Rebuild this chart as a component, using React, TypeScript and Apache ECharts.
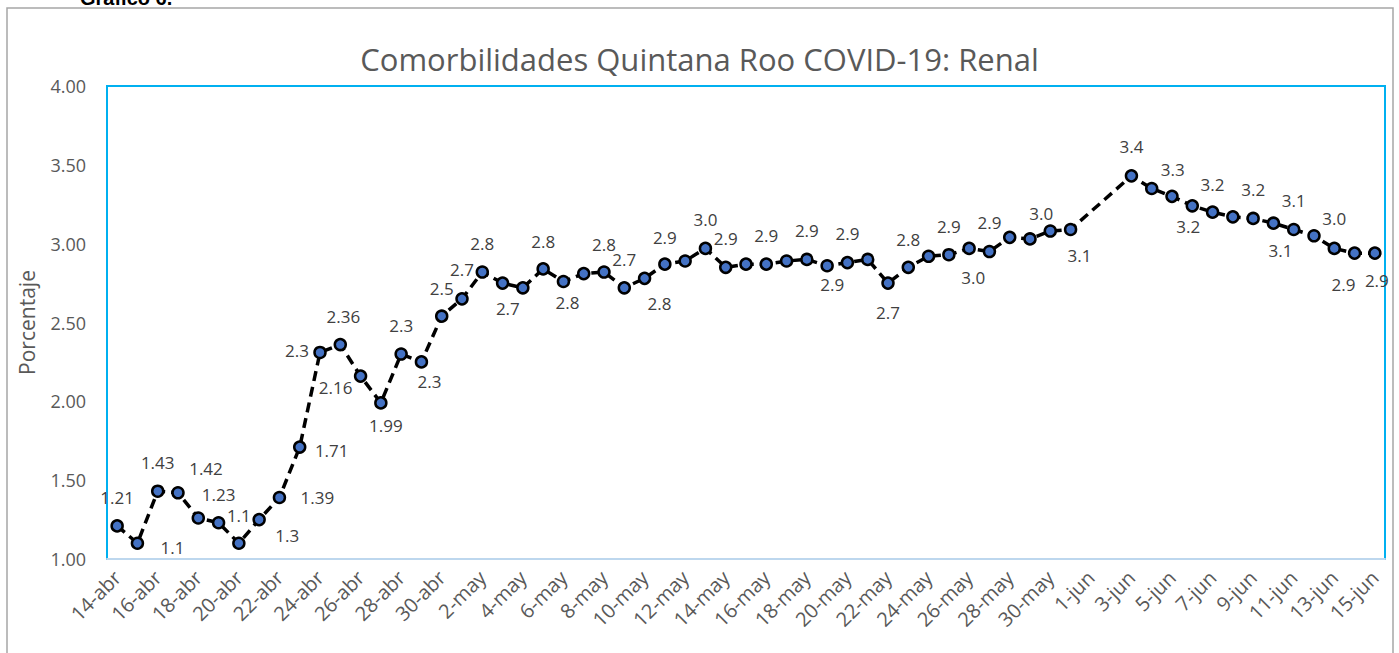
import React, { useEffect, useRef } from "react";
import * as echarts from "echarts";

const categories: string[] = [
  "14-abr", "15-abr", "16-abr", "17-abr", "18-abr", "19-abr", "20-abr", "21-abr", "22-abr", "23-abr",
  "24-abr", "25-abr", "26-abr", "27-abr", "28-abr", "29-abr", "30-abr",
  "1-may", "2-may", "3-may", "4-may", "5-may", "6-may", "7-may", "8-may", "9-may", "10-may",
  "11-may", "12-may", "13-may", "14-may", "15-may", "16-may", "17-may", "18-may", "19-may", "20-may",
  "21-may", "22-may", "23-may", "24-may", "25-may", "26-may", "27-may", "28-may", "29-may", "30-may", "31-may",
  "1-jun", "2-jun", "3-jun", "4-jun", "5-jun", "6-jun", "7-jun", "8-jun", "9-jun", "10-jun",
  "11-jun", "12-jun", "13-jun", "14-jun", "15-jun",
];

const renalValues: (number | null)[] = [
  1.21, 1.1, 1.43, 1.42, 1.26, 1.23, 1.1, 1.25, 1.39, 1.71,
  2.31, 2.36, 2.16, 1.99, 2.3, 2.25, 2.54, 2.65, 2.82, 2.75,
  2.72, 2.84, 2.76, 2.81, 2.82, 2.72, 2.78, 2.87, 2.89, 2.97,
  2.85, 2.87, 2.87, 2.89, 2.9, 2.86, 2.88, 2.9, 2.75, 2.85,
  2.92, 2.93, 2.97, 2.95, 3.04, 3.03, 3.08, 3.09, null, null,
  3.43, 3.35, 3.3, 3.24, 3.2, 3.17, 3.16, 3.13, 3.09, 3.05,
  2.97, 2.94, 2.94,
];

// Text of the data labels shown in the reference ("" = no label)
const labelTexts: string[] = [
  "1.21", "1.1", "1.43", "1.42", "", "1.23", "1.1", "1.3", "1.39", "1.71",
  "2.3", "2.36", "2.16", "1.99", "2.3", "2.3", "2.5", "2.7", "2.8", "",
  "2.7", "2.8", "2.8", "", "2.8", "2.7", "2.8", "2.9", "", "3.0",
  "2.9", "", "2.9", "", "2.9", "2.9", "2.9", "", "2.7", "2.8",
  "", "2.9", "3.0", "2.9", "", "", "3.0", "3.1", "", "",
  "3.4", "3.3", "", "3.2", "3.2", "", "3.2", "3.1", "3.1", "",
  "3.0", "2.9", "2.9",
];

// Label placement (styling): offset of each label from its point
const labelOffsets: [number, number][] = [
  [0, -28], [35, 4], [0, -29], [28, -24], [0, 0], [0, -28], [0, -28], [28, 16], [38, 0], [32, 3],
  [-23, -2], [3, -28], [-25, 11], [5, 23], [0, -29], [8, 20], [0, -28], [0, -29], [0, -29], [0, 0],
  [-15, 21], [0, -27], [4, 21], [0, 0], [0, -28], [0, -28], [15, 25], [0, -27], [0, 0], [0, -29],
  [0, -29], [0, 0], [0, -29], [0, 0], [0, -29], [5, 19], [0, -29], [0, 0], [0, 29], [0, -28],
  [0, 0], [0, -28], [4, 29], [0, -29], [0, 0], [0, 0], [-9, -18], [9, 26], [0, 0], [0, 0],
  [0, -29], [21, -19], [0, 0], [-4, 21], [0, -28], [0, 0], [0, -29], [7, 27], [0, -29], [0, 0],
  [0, -30], [-11, 31], [2, 27],
];

const FONT = "'Open Sans', 'Noto Sans', sans-serif";

export default function App() {
  const ref = useRef<HTMLDivElement>(null);

  useEffect(() => {
    if (!ref.current) return;
    const chart = echarts.init(ref.current, undefined, { renderer: "svg" });

    const data = renalValues.map((v, i) => ({
      value: v,
      label: {
        show: labelTexts[i] !== "" && v !== null,
        formatter: labelTexts[i],
        offset: labelOffsets[i],
      },
    }));

    chart.setOption({
      animation: false,
      backgroundColor: "#ffffff",
      graphic: [
        {
          type: "rect",
          shape: { x: 7, y: 8, width: 1386, height: 700 },
          style: { fill: "transparent", stroke: "#A6A6A6", lineWidth: 1.5 },
          silent: true,
        },
        {
          type: "text",
          x: 80,
          y: 8,
          style: {
            text: "Gráfico 6.",
            font: "bold 20px 'Liberation Sans', Arial, sans-serif",
            fill: "#000000",
            textVerticalAlign: "bottom",
          },
        },
      ],
      title: {
        text: "Comorbilidades Quintana Roo COVID-19: Renal",
        left: "center",
        top: 38,
        textStyle: {
          fontFamily: FONT,
          fontSize: 31,
          fontWeight: "normal",
          color: "#595959",
        },
      },
      grid: {
        left: 107,
        right: 14,
        top: 86,
        bottom: 94,
        show: true,
        borderColor: "#00B0F0",
        borderWidth: 2,
        backgroundColor: "transparent",
      },
      xAxis: {
        type: "category",
        data: categories,
        boundaryGap: true,
        axisLine: { show: true, lineStyle: { color: "#BDD7EE", width: 2 } },
        axisTick: { show: false },
        axisLabel: {
          interval: 1,
          rotate: 45,
          fontSize: 20,
          color: "#595959",
          fontFamily: FONT,
          margin: 15,
        },
        splitLine: { show: false },
      },
      yAxis: {
        type: "value",
        min: 1,
        max: 4,
        interval: 0.5,
        name: "Porcentaje",
        nameLocation: "middle",
        nameGap: 70,
        nameTextStyle: { fontFamily: FONT, fontSize: 21, color: "#595959" },
        axisLine: { show: false },
        axisTick: { show: false },
        axisLabel: {
          formatter: (v: number) => v.toFixed(2),
          fontSize: 18,
          color: "#595959",
          fontFamily: FONT,
          margin: 21,
        },
        splitLine: { show: false },
      },
      series: [
        {
          type: "line",
          data,
          connectNulls: true,
          symbol: "circle",
          symbolSize: 11,
          lineStyle: { color: "#000000", width: 3.5, type: [10, 6] },
          itemStyle: { color: "#4472C4", borderColor: "#000000", borderWidth: 2.5 },
          label: {
            show: true,
            position: "inside",
            fontSize: 17,
            color: "#404040",
            fontFamily: FONT,
          },
          z: 3,
        },
      ],
    });

    return () => chart.dispose();
  }, []);

  return (
    <div
      ref={ref}
      style={{ position: "absolute", left: 0, top: 0, width: 1399, height: 653 }}
    />
  );
}
